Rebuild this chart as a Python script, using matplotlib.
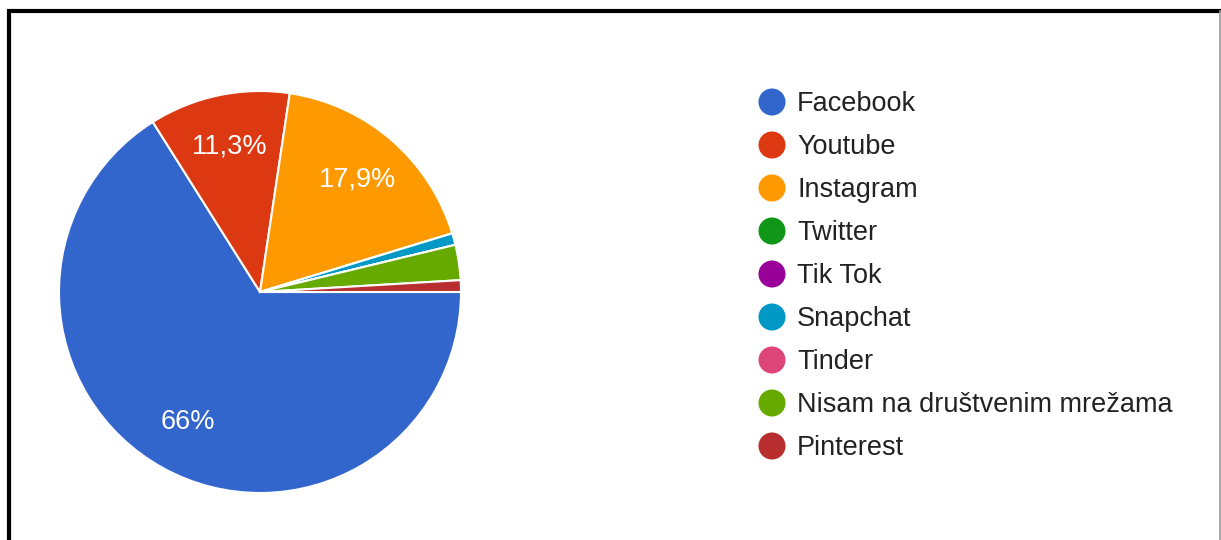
import numpy as np
import matplotlib.pyplot as plt

# survey answers (share of respondents, %)
labels = ['Facebook', 'Youtube', 'Instagram', 'Twitter', 'Tik Tok',
          'Snapchat', 'Tinder', 'Nisam na društvenim mrežama', 'Pinterest']
values = [66.04, 11.32, 17.92, 0.0, 0.0, 0.94, 0.0, 2.83, 0.94]
colors = ['#3366cc', '#dc3912', '#ff9900', '#109618', '#990099',
          '#0099c6', '#dd4477', '#66aa00', '#b82e2e']

plt.rcParams['font.family'] = ['Liberation Sans', 'DejaVu Sans']

W, H = 1221, 540
fig = plt.figure(figsize=(W / 100, H / 100), dpi=100)
fig.patch.set_facecolor('white')


def pct_label(p):
    if p < 5:
        return ''
    s = f'{p:.1f}'
    if s.endswith('.0'):
        s = s[:-2]
    return s.replace('.', ',') + '%'


# === pie ===
ax = fig.add_axes([59 / W, 47 / H, 402 / W, 402 / H])
ax.pie(values, colors=colors, startangle=0, counterclock=False,
       autopct=pct_label, pctdistance=0.74,
       wedgeprops=dict(edgecolor='white', linewidth=1.5),
       textprops=dict(color='white', fontsize=19.5))
ax.set_xlim(-1, 1)
ax.set_ylim(-1, 1)
ax.set_aspect('equal')
ax.axis('off')

# === legend + frame, drawn in pixel coords ===
ov = fig.add_axes([0, 0, 1, 1], zorder=-1)
ov.set_xlim(0, W)
ov.set_ylim(H, 0)
ov.axis('off')

rows = 102 + 43 * np.arange(len(labels))
ov.scatter(np.full(len(labels), 772), rows, s=27 ** 2 * 0.52, c=colors,
           edgecolors='none')
for y, lab in zip(rows, labels):
    ov.text(797, y + 2, lab, fontsize=19.5, color='#222222', va='center', ha='left')

ov.plot([9, 9, W], [H, 11, 11], color='black', linewidth=3, solid_joinstyle='miter')
ov.plot([1219.5, 1219.5], [11, H], color='#999999', linewidth=1.2)

fig.savefig('out.png', dpi=100)
